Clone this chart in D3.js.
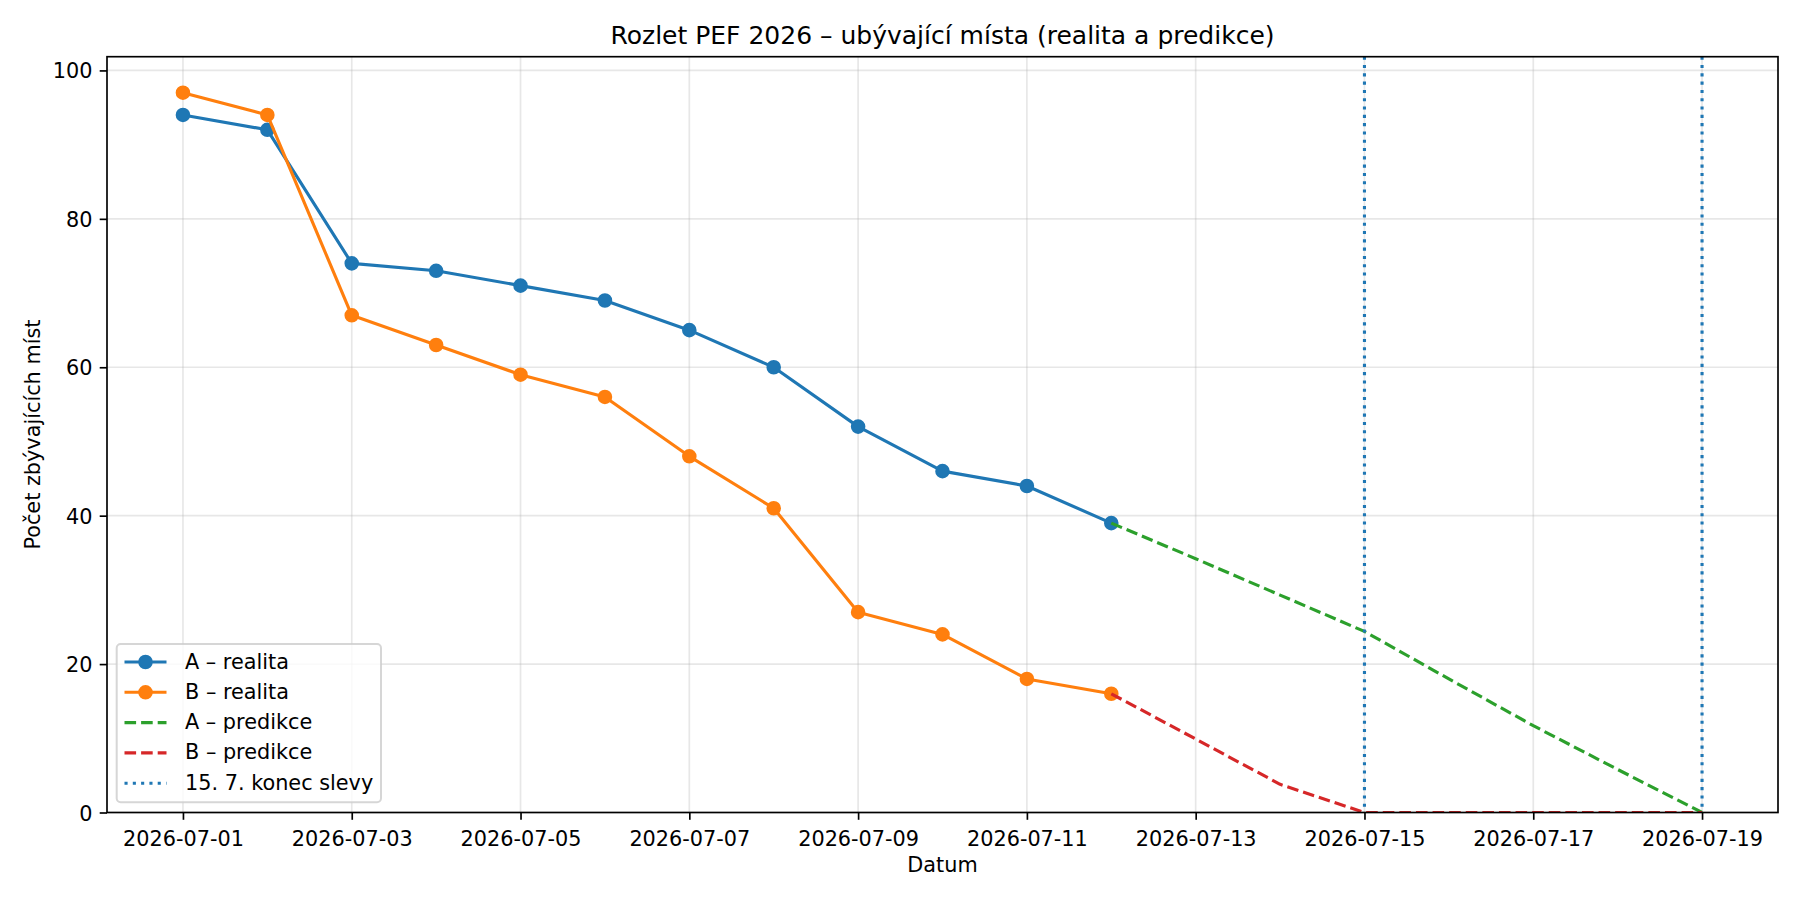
<!DOCTYPE html>
<html>
<head>
<meta charset="utf-8">
<script src="https://cdn.jsdelivr.net/npm/d3@7"></script>
<style>
	body { margin: 0; background: #fff; }
	svg { display: block; font-family: "DejaVu Sans", sans-serif; }
</style>
</head>
<body>
<div class="chart"></div>
<script>
// data
var realDates = ['2026-07-01', '2026-07-02', '2026-07-03', '2026-07-04', '2026-07-05', '2026-07-06',
                 '2026-07-07', '2026-07-08', '2026-07-09', '2026-07-10', '2026-07-11', '2026-07-12'];
var aReal = [94, 92, 74, 73, 71, 69, 65, 60, 52, 46, 44, 39];
var bReal = [97, 94, 67, 63, 59, 56, 48, 41, 27, 24, 18, 16];

var predDates = ['2026-07-12', '2026-07-13', '2026-07-14', '2026-07-15', '2026-07-16', '2026-07-17', '2026-07-18', '2026-07-19'];
var aPred = [39, 34.2, 29.3, 24.4, 18.0, 11.7, 5.8, 0];
var bPred = [16, 9.9, 3.8, 0, 0, 0, 0, 0];

var deadlineDates = ['2026-07-15', '2026-07-19'];

var xTicks = ['2026-07-01', '2026-07-03', '2026-07-05', '2026-07-07', '2026-07-09',
              '2026-07-11', '2026-07-13', '2026-07-15', '2026-07-17', '2026-07-19'];
var yTicks = [0, 20, 40, 60, 80, 100];

var legendLabels = ['A \u2013 realita', 'B \u2013 realita', 'A \u2013 predikce', 'B \u2013 predikce', '15. 7. konec slevy'];

var width = 1800, height = 900,
    margin = { top: 56.7, right: 22, bottom: 87.5, left: 107 };

var blue = '#1f77b4', orange = '#ff7f0e', green = '#2ca02c', red = '#d62728';

var parse = d3.utcParse('%Y-%m-%d');
var day = 864e5;

var zip = function(dates, vals) { return dates.map(function(d, i) { return { date: parse(d), value: vals[i] }; }); };

var series = [
	{ data: zip(realDates, aReal), color: blue, dash: null, markers: true },
	{ data: zip(realDates, bReal), color: orange, dash: null, markers: true },
	{ data: zip(predDates, aPred), color: green, dash: '11.6,5', markers: false },
	{ data: zip(predDates, bPred), color: red, dash: '11.6,5', markers: false }
];

var first = parse(xTicks[0]), last = parse(xTicks[xTicks.length - 1]);
var x = d3.scaleUtc()
	.domain([new Date(+first - 0.9 * day), new Date(+last + 0.9 * day)])
	.range([margin.left, width - margin.right]);
var y = d3.scaleLinear()
	.domain([0, 97 * 1.05])
	.range([height - margin.bottom, margin.top]);

var svg = d3.select('.chart').append('svg')
	.attr('width', width)
	.attr('height', height);

svg.append('defs').append('clipPath').attr('id', 'plot')
	.append('rect')
	.attr('x', margin.left).attr('y', margin.top)
	.attr('width', width - margin.left - margin.right)
	.attr('height', height - margin.top - margin.bottom);

// grid
var grid = svg.append('g').attr('stroke', '#b0b0b0').attr('stroke-opacity', 0.3).attr('stroke-width', 1.67);
grid.selectAll('.vx').data(xTicks).enter().append('line')
	.attr('x1', function(d) { return x(parse(d)); })
	.attr('x2', function(d) { return x(parse(d)); })
	.attr('y1', margin.top).attr('y2', height - margin.bottom);
grid.selectAll('.hy').data(yTicks).enter().append('line')
	.attr('y1', function(d) { return y(d); })
	.attr('y2', function(d) { return y(d); })
	.attr('x1', margin.left).attr('x2', width - margin.right);

// lines
var line = d3.line()
	.x(function(d) { return x(d.date); })
	.y(function(d) { return y(d.value); });

var plot = svg.append('g').attr('clip-path', 'url(#plot)');

series.forEach(function(s) {
	var g = plot.append('g');
	g.append('path')
		.attr('d', line(s.data))
		.attr('fill', 'none')
		.attr('stroke', s.color)
		.attr('stroke-width', 3.125)
		.attr('stroke-linejoin', 'round')
		.attr('stroke-dasharray', s.dash);
	if(s.markers) {
		g.selectAll('circle').data(s.data).enter().append('circle')
			.attr('cx', function(d) { return x(d.date); })
			.attr('cy', function(d) { return y(d.value); })
			.attr('r', 6.25)
			.attr('fill', s.color)
			.attr('stroke', s.color)
			.attr('stroke-width', 2.08);
	}
});

plot.selectAll('.deadline').data(deadlineDates).enter().append('line')
	.attr('x1', function(d) { return x(parse(d)); })
	.attr('x2', function(d) { return x(parse(d)); })
	.attr('y1', margin.top).attr('y2', height - margin.bottom)
	.attr('stroke', blue)
	.attr('stroke-width', 3.125)
	.attr('stroke-dasharray', '3.1,5.2');

// axes
var xAxis = svg.append('g')
	.attr('transform', 'translate(0,' + (height - margin.bottom) + ')')
	.call(d3.axisBottom(x).tickValues(xTicks.map(parse)).tickFormat(d3.utcFormat('%Y-%m-%d')).tickSizeInner(7.3).tickSizeOuter(0).tickPadding(7.3));
var yAxis = svg.append('g')
	.attr('transform', 'translate(' + margin.left + ',0)')
	.call(d3.axisLeft(y).tickValues(yTicks).tickSizeInner(7.3).tickSizeOuter(0).tickPadding(7.3));

[xAxis, yAxis].forEach(function(a) {
	a.selectAll('.domain').remove();
	a.selectAll('.tick line').attr('stroke', '#000').attr('stroke-width', 1.67);
	a.selectAll('.tick text').attr('fill', '#000').attr('font-size', 20.8).attr('font-family', '"DejaVu Sans", sans-serif');
});
xAxis.selectAll('.tick text').attr('dy', '0.92em');
yAxis.selectAll('.tick text').attr('dy', '0.36em');

// frame
svg.append('rect')
	.attr('x', margin.left).attr('y', margin.top)
	.attr('width', width - margin.left - margin.right)
	.attr('height', height - margin.top - margin.bottom)
	.attr('fill', 'none')
	.attr('stroke', '#000')
	.attr('stroke-width', 1.67);

// titles
var cx = (margin.left + width - margin.right) / 2;
svg.append('text')
	.attr('x', cx).attr('y', 44)
	.attr('text-anchor', 'middle')
	.attr('font-size', 25)
	.text('Rozlet PEF 2026 \u2013 ubývající místa (realita a predikce)');
svg.append('text')
	.attr('x', cx).attr('y', 872)
	.attr('text-anchor', 'middle')
	.attr('font-size', 20.8)
	.text('Datum');
svg.append('text')
	.attr('transform', 'translate(40,' + ((margin.top + height - margin.bottom) / 2) + ') rotate(-90)')
	.attr('text-anchor', 'middle')
	.attr('font-size', 20.8)
	.text('Počet zbývajících míst');

// legend
var legend = svg.append('g');
legend.append('rect')
	.attr('x', 116.7).attr('y', 644)
	.attr('width', 264.3).attr('height', 158.3)
	.attr('rx', 4).attr('ry', 4)
	.attr('fill', '#fff').attr('fill-opacity', 0.8)
	.attr('stroke', '#cccccc').attr('stroke-opacity', 0.8)
	.attr('stroke-width', 2);

var legendItems = series.map(function(s) { return { color: s.color, dash: s.dash, markers: s.markers }; })
	.concat([{ color: blue, dash: '3.1,5.2', markers: false }]);

var rows = legend.selectAll('.row').data(legendItems).enter().append('g')
	.attr('transform', function(d, i) { return 'translate(0,' + (662 + i * 30.3) + ')'; });
rows.append('line')
	.attr('x1', 124.5).attr('x2', 166.5)
	.attr('stroke', function(d) { return d.color; })
	.attr('stroke-width', 3.125)
	.attr('stroke-dasharray', function(d) { return d.dash; });
rows.filter(function(d) { return d.markers; }).append('circle')
	.attr('cx', 145.5).attr('r', 6.25)
	.attr('fill', function(d) { return d.color; })
	.attr('stroke', function(d) { return d.color; })
	.attr('stroke-width', 2.08);
rows.append('text')
	.attr('x', 185).attr('y', 6.5)
	.attr('font-size', 20.8)
	.text(function(d, i) { return legendLabels[i]; });
</script>
</body>
</html>
